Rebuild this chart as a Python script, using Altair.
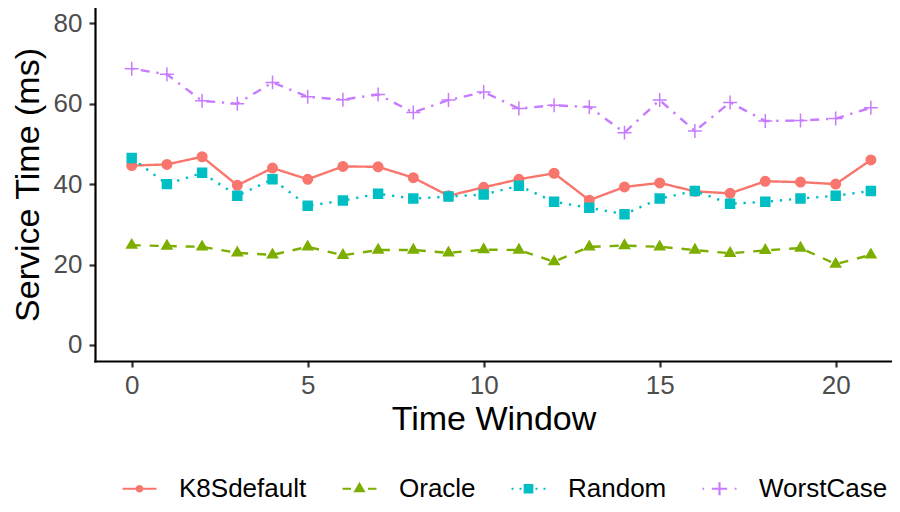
import altair as alt
import pandas as pd

# ---- data ----
time_window = list(range(22))
methods = ["K8Sdefault", "Oracle", "Random", "WorstCase"]
k8sdefault = [44.6, 44.9, 46.8, 39.7, 44.0, 41.2, 44.4, 44.3, 41.6, 37.1, 39.2,
              41.2, 42.7, 36.0, 39.3, 40.3, 38.2, 37.7, 40.7, 40.5, 40.0, 46.0]
oracle = [24.8, 24.6, 24.4, 22.9, 22.4, 24.4, 22.3, 23.6, 23.6, 22.9, 23.7,
          23.6, 20.7, 24.4, 24.7, 24.4, 23.6, 22.8, 23.5, 24.1, 20.1, 22.4]
random_ = [46.5, 40.0, 42.8, 37.1, 41.2, 34.6, 35.9, 37.6, 36.4, 36.9, 37.4,
           39.6, 35.6, 34.1, 32.5, 36.4, 38.3, 35.1, 35.6, 36.4, 37.1, 38.3]
worstcase = [68.7, 67.3, 60.7, 60.0, 65.3, 61.7, 61.0, 62.3, 57.8, 60.9, 62.9,
             58.8, 59.6, 59.2, 52.8, 60.9, 53.2, 60.3, 55.7, 55.8, 56.3, 59.0]
x_ticks = [0, 5, 10, 15, 20]
y_ticks = [0, 20, 40, 60, 80]

# ---- styles ----
colors = ["#F8766D", "#7CAE00", "#00BFC4", "#C77CFF"]
dashes = [[1, 0], [9, 9], [2.3, 6.8], [2.3, 6.8, 9, 6.8]]
plot_shapes = [
    "M0.85,0A0.85,0.85 0 1,1 -0.85,0A0.85,0.85 0 1,1 0.85,0Z",
    "M0,-1.04L0.9,0.52L-0.9,0.52Z",
    "M-0.8,-0.8H0.8V0.8H-0.8Z",
    "M-1.25,0H1.25M0,-1.25V1.25",
]
legend_shapes = [
    "M-1,0H1M0.16,0A0.16,0.16 0 1,1 -0.16,0A0.16,0.16 0 1,1 0.16,0Z",
    "M-1,0H-0.5M0.5,0H1M0,-0.28L0.243,0.14L-0.243,0.14Z",
    "M-1,0H-0.88M-0.53,0H-0.41M0.41,0H0.53M0.88,0H1M-0.22,-0.22H0.22V0.22H-0.22Z",
    "M-1,0H-0.9M-0.45,0H0.45M0.9,0H1M0,-0.38V0.38",
]

rows = []
for m, vals in zip(methods, [k8sdefault, oracle, random_, worstcase]):
    for t, v in zip(time_window, vals):
        rows.append({"time": t, "value": v, "method": m})
df = pd.DataFrame(rows)

FONT = "Liberation Sans"

x_enc = alt.X(
    "time:Q",
    scale=alt.Scale(domain=[-1.043, 21.6], nice=False, zero=False),
    axis=alt.Axis(values=x_ticks, title="Time Window", titlePadding=4, labelPadding=5),
)
y_enc = alt.Y(
    "value:Q",
    scale=alt.Scale(domain=[-4, 83.8], nice=False, zero=False),
    axis=alt.Axis(values=y_ticks, title="Service Time (ms)", titlePadding=8, labelPadding=7),
)
cscale = alt.Scale(domain=methods, range=colors)

base = alt.Chart(df)

lines = base.mark_line(strokeWidth=2.4, strokeCap="butt").encode(
    x=x_enc,
    y=y_enc,
    color=alt.Color("method:N", scale=cscale, legend=None),
    strokeDash=alt.StrokeDash("method:N", scale=alt.Scale(domain=methods, range=dashes), legend=None),
)

points = base.mark_point(filled=True, opacity=1, strokeWidth=1.5, size=125).encode(
    x=x_enc,
    y=y_enc,
    color=alt.Color("method:N", scale=cscale, legend=None),
    stroke=alt.Stroke("method:N", scale=cscale, legend=None),
    shape=alt.Shape("method:N", scale=alt.Scale(domain=methods, range=plot_shapes), legend=None),
)

leg = alt.Legend(
    title=None,
    orient="none",
    direction="horizontal",
    legendX=26,
    legendY=462,
    symbolSize=1156,
    symbolStrokeWidth=2.2,
    symbolOpacity=1,
    labelFontSize=26,
    labelFont=FONT,
    labelColor="black",
    labelOffset=21,
    columnPadding=31,
)

legend_layer = base.mark_point(filled=True, opacity=0, size=100).encode(
    x=x_enc,
    y=y_enc,
    color=alt.Color("method:N", scale=cscale, legend=leg),
    stroke=alt.Stroke("method:N", scale=cscale, legend=leg),
    shape=alt.Shape("method:N", scale=alt.Scale(domain=methods, range=legend_shapes), legend=leg),
)

chart = (
    alt.layer(lines, points, legend_layer)
    .resolve_scale(color="independent", stroke="independent", shape="independent", strokeDash="independent")
    .properties(
        width=797,
        height=353,
        autosize=alt.AutoSizeParams(type="none"),
        padding={"left": 87, "top": 0, "right": 0, "bottom": 143},
        background="white",
    )
    .configure_view(stroke=None)
    .configure_axis(
        grid=False,
        domainColor="black",
        domainWidth=2.2,
        domainCap="square",
        tickColor="#333333",
        tickWidth=2.2,
        tickSize=6,
        labelFont=FONT,
        labelFontSize=26,
        labelColor="#4D4D4D",
        titleFont=FONT,
        titleFontSize=34,
        titleFontWeight="normal",
        titleColor="black",
    )
)

chart.save("out.html", embed_options={"renderer": "svg", "actions": False})
